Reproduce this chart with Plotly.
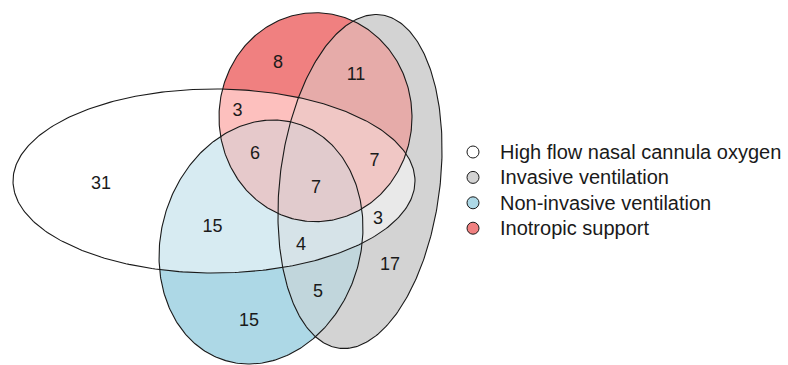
import math
from itertools import combinations

import numpy as np
import plotly.graph_objects as go

# ---- data -------------------------------------------------------------
set_names = [
    "High flow nasal cannula oxygen",
    "Invasive ventilation",
    "Non-invasive ventilation",
    "Inotropic support",
]
set_fills = ["#FFFFFF", "#D3D3D3", "#ADD8E6", "#F08080"]

# exclusive region counts, keyed by the indices of the sets they belong to
region_sets = [(0,), (1,), (2,), (3,), (0, 1), (0, 2), (0, 3), (1, 2), (1, 3),
               (0, 1, 2), (0, 1, 3), (0, 2, 3), (0, 1, 2, 3)]
region_counts = [31, 17, 15, 8, 3, 15, 3, 5, 11, 4, 7, 6, 7]

# ---- fitted ellipse geometry (pixel units: cx, cy, a, b, rotation deg) --
ellipses = [
    (214.0, 181.0, 201.0, 92.0, 0.0),
    (360.0, 181.5, 168.0, 80.0, 97.1),
    (261.0, 242.0, 123.8, 99.8, 106.6),
    (315.5, 117.2, 96.5, 104.5, 0.0),
]

W, H = 788, 365
NUM_FONT = 18
LEG_FONT = 20
TEXT_DY = 3  # nudges plotly's text box so digits sit centred on their anchor
FONT = "Liberation Sans, Arial, Helvetica, sans-serif"


# ---- colour mixing in CIE Lab ----------------------------------------
_M = np.array([[0.4124564, 0.3575761, 0.1804375],
               [0.2126729, 0.7151522, 0.0721750],
               [0.0193339, 0.1191920, 0.9503041]])
_WHITE = np.array([0.95047, 1.0, 1.08883])


def hex_to_lab(h):
    c = np.array([int(h[i:i + 2], 16) for i in (1, 3, 5)]) / 255.0
    lin = np.where(c <= 0.04045, c / 12.92, ((c + 0.055) / 1.055) ** 2.4)
    t = (_M @ lin) / _WHITE
    d = 6 / 29
    f = np.where(t > d ** 3, np.cbrt(t), t / (3 * d * d) + 4 / 29)
    return np.array([116 * f[1] - 16, 500 * (f[0] - f[1]), 200 * (f[1] - f[2])])


def lab_to_hex(lab):
    L, a, b = lab
    fy = (L + 16) / 116
    fx = fy + a / 500
    fz = fy - b / 200
    d = 6 / 29
    f = np.array([fx, fy, fz])
    t = np.where(f > d, f ** 3, 3 * d * d * (f - 4 / 29)) * _WHITE
    lin = np.linalg.solve(_M, t)
    lin = np.clip(lin, 0, 1)
    c = np.where(lin <= 0.0031308, 12.92 * lin, 1.055 * lin ** (1 / 2.4) - 0.055)
    c = np.clip(np.round(c * 255), 0, 255).astype(int)
    return "#%02X%02X%02X" % tuple(c)


def mix(idx):
    return lab_to_hex(np.mean([hex_to_lab(set_fills[i]) for i in idx], axis=0))


# ---- geometry helpers -------------------------------------------------
def ellipse_pts(e, n=360):
    cx, cy, a, b, th = e
    t = math.radians(th)
    ct, st = math.cos(t), math.sin(t)
    pts = []
    for k in range(n):
        s = 2 * math.pi * k / n
        u, v = a * math.cos(s), b * math.sin(s)
        pts.append((cx + u * ct - v * st, cy + u * st + v * ct))
    return pts


def clip(subject, clipper):
    out = subject
    n = len(clipper)
    for i in range(n):
        a, b = clipper[i], clipper[(i + 1) % n]
        ex, ey = b[0] - a[0], b[1] - a[1]

        def side(p):
            return ex * (p[1] - a[1]) - ey * (p[0] - a[0])

        inp, out = out, []
        if not inp:
            break
        s = inp[-1]
        ss = side(s)
        for p in inp:
            sp = side(p)
            if sp >= 0:
                if ss < 0:
                    t = ss / (ss - sp)
                    out.append((s[0] + t * (p[0] - s[0]), s[1] + t * (p[1] - s[1])))
                out.append(p)
            elif ss >= 0:
                t = ss / (ss - sp)
                out.append((s[0] + t * (p[0] - s[0]), s[1] + t * (p[1] - s[1])))
            s, ss = p, sp
    return out


def member(e, x, y):
    cx, cy, a, b, th = e
    t = math.radians(th)
    dx, dy = x - cx, y - cy
    u = dx * math.cos(t) + dy * math.sin(t)
    v = -dx * math.sin(t) + dy * math.cos(t)
    return (u / a) ** 2 + (v / b) ** 2 <= 1


polys = [ellipse_pts(e) for e in ellipses]

# ---- label anchors: pole of inaccessibility of each region ------------
bnd = np.array([p for e in ellipses for p in ellipse_pts(e, 1440)])


def min_dist(px, py):
    out = np.empty(len(px))
    for s in range(0, len(px), 1500):
        dx = px[s:s + 1500, None] - bnd[None, :, 0]
        dy = py[s:s + 1500, None] - bnd[None, :, 1]
        out[s:s + 1500] = np.sqrt((dx * dx + dy * dy).min(axis=1))
    return out


gx, gy = np.meshgrid(np.arange(0, 460, 2.0), np.arange(0, H + 1, 2.0))
gx, gy = gx.ravel(), gy.ravel()
inside = np.array([member(e, gx, gy) for e in ellipses])

label_x, label_y = [], []
for rs in region_sets:
    mask = np.ones(len(gx), bool)
    for i in range(len(ellipses)):
        mask &= inside[i] if i in rs else ~inside[i]
    px, py = gx[mask], gy[mask]
    d = min_dist(px, py)
    k = int(d.argmax())
    bx, by = px[k], py[k]
    fx, fy = np.meshgrid(np.arange(bx - 2, bx + 2.01, 0.5), np.arange(by - 2, by + 2.01, 0.5))
    fx, fy = fx.ravel(), fy.ravel()
    ok = np.ones(len(fx), bool)
    for i, e in enumerate(ellipses):
        m = member(e, fx, fy)
        ok &= m if i in rs else ~m
    fd = np.where(ok, min_dist(fx, fy), -1)
    k = int(fd.argmax())
    label_x.append(float(fx[k]))
    label_y.append(float(fy[k]))

# ---- figure -----------------------------------------------------------
fig = go.Figure()

# paint intersections from single sets up to all four; the last layer
# covering a point is exactly the set combination it belongs to
for size in range(1, len(ellipses) + 1):
    for combo in combinations(range(len(ellipses)), size):
        poly = polys[combo[0]]
        for j in combo[1:]:
            poly = clip(poly, polys[j])
        if len(poly) < 3:
            continue
        xs = [p[0] for p in poly] + [poly[0][0]]
        ys = [p[1] for p in poly] + [poly[0][1]]
        fig.add_trace(go.Scatter(
            x=xs, y=ys, mode="lines", fill="toself", fillcolor=mix(combo),
            line=dict(width=0, color=mix(combo)), hoverinfo="skip", showlegend=False))

for i, pts in enumerate(polys):
    fig.add_trace(go.Scatter(
        x=[p[0] for p in pts] + [pts[0][0]], y=[p[1] for p in pts] + [pts[0][1]],
        mode="lines", line=dict(color="#1A1A1A", width=1.1),
        hoverinfo="skip", showlegend=False, name=set_names[i]))

fig.add_trace(go.Scatter(
    x=label_x, y=[y + TEXT_DY for y in label_y], mode="text",
    text=[str(c) for c in region_counts],
    textposition="middle center", textfont=dict(family=FONT, size=NUM_FONT, color="#1A1A1A"),
    hoverinfo="skip", showlegend=False))

# legend keys
leg_x, leg_top, leg_step = 473, 152, 25.4
leg_y = [leg_top + leg_step * i for i in range(len(set_names))]
fig.add_trace(go.Scatter(
    x=[leg_x] * len(set_names), y=leg_y, mode="markers",
    marker=dict(size=12, color=set_fills, line=dict(color="#1A1A1A", width=1)),
    hoverinfo="skip", showlegend=False))
for name, y in zip(set_names, leg_y):
    fig.add_annotation(x=leg_x + 25, y=y, text=name, showarrow=False,
                       xanchor="left", yanchor="middle",
                       font=dict(family=FONT, size=LEG_FONT, color="#1A1A1A"))

fig.update_layout(
    width=W, height=H, margin=dict(l=0, r=0, t=0, b=0),
    paper_bgcolor="white", plot_bgcolor="white",
    xaxis=dict(range=[0, W], visible=False, fixedrange=True),
    yaxis=dict(range=[H, 0], visible=False, fixedrange=True),
)

fig.write_html("out.html")
